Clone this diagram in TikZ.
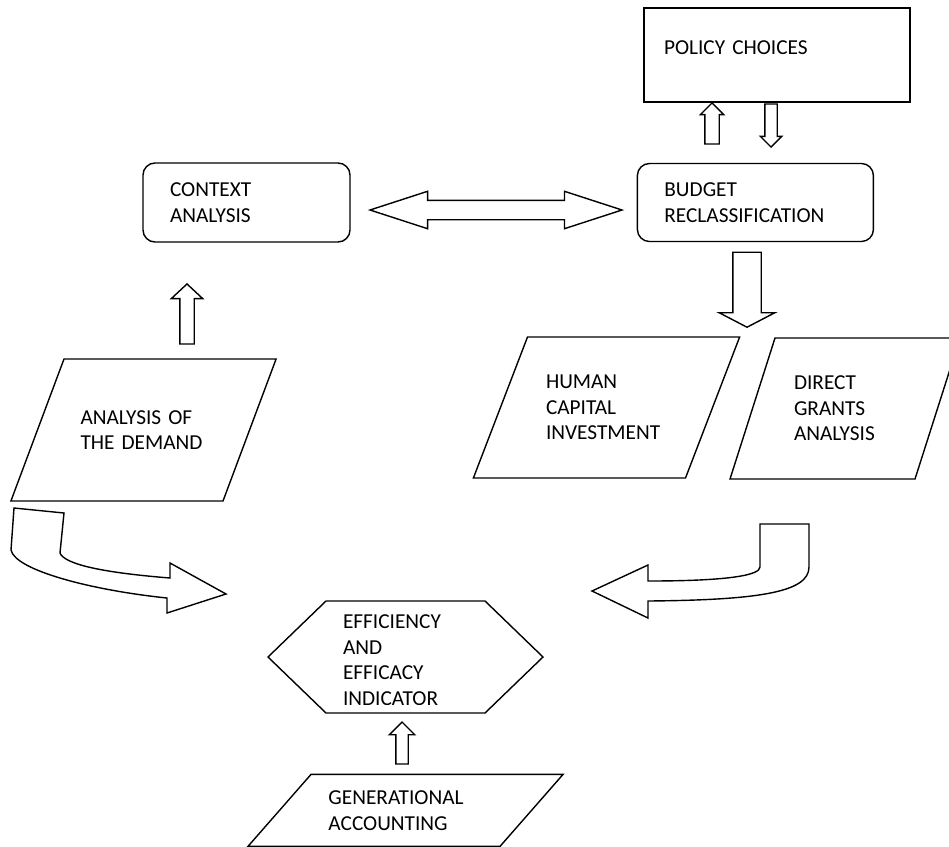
\documentclass[tikz,border=0pt]{standalone}
\usepackage{fontspec}
\setmainfont{Carlito}
\usetikzlibrary{shapes.geometric,shapes.arrows,shapes.symbols,positioning}

\begin{document}
\begin{tikzpicture}[
    x=1pt, y=-1pt,
    txt/.style={font=\fontsize{21.3}{25.5}\selectfont, align=left},
    box/.style={txt, rectangle, draw, line width=1.4pt, inner ysep=0pt},
    rbox/.style={box, rounded corners=12pt},
    data/.style={txt, trapezium, draw, line width=1.4pt, text height=13.7pt},
    hexa/.style={txt, signal, signal to=west and east, draw, line width=1.4pt, inner sep=0pt},
    barrow/.style={single arrow, draw, line width=1.4pt, inner ysep=0pt, single arrow tip angle=90},
    darrow/.style={double arrow, draw, line width=1.4pt, inner xsep=0pt},
    bent/.style={draw, line width=1.4pt, line join=miter}
]
\useasboundingbox (0,0) rectangle (949,846);

% boxes
\node[box, minimum width=266pt, minimum height=94pt, text width=226pt, inner xsep=20pt, text depth=14pt] (policy) at (777,55) {POLICY CHOICES};
\node[rbox, text width=153pt, inner xsep=27pt, minimum height=79pt] (ctx) at (246.5,202.5) {CONTEXT\\ANALYSIS};
\node[rbox, text width=182pt, inner xsep=27pt, minimum height=78pt, right=286pt of ctx] (budget) {BUDGET\\RECLASSIFICATION};

% data
\node[data, trapezium left angle=69.5, trapezium right angle=110.5, text width=126pt, text depth=25.5pt, inner xsep=16.5pt, inner ysep=51.4pt] (demand) at (143.5,430) {ANALYSIS OF\\THE DEMAND};
\node[data, trapezium left angle=69, trapezium right angle=111, text width=121pt, text depth=51pt, inner xsep=18.5pt, inner ysep=38.15pt] (human) at (606.5,407.5) {HUMAN\\CAPITAL\\INVESTMENT};
\node[data, trapezium left angle=72.3, trapezium right angle=107.7, text width=102pt, text depth=51pt, inner xsep=19pt, inner ysep=38.15pt] (grants) at (845,408.5) {DIRECT\\GRANTS\\ANALYSIS};

% indicator (last line cut off)
\node[hexa, signal pointer angle=88, minimum width=275pt, minimum height=112pt, text width=125pt, text height=20.2pt, text depth=76.5pt] (indic) at (405.5,657) {EFFICIENCY\\AND\\EFFICACY\\INDICATOR};
\fill[white] (338,705) rectangle (455,711.6);
\node[data, trapezium left angle=48.8, trapezium right angle=131.2, text width=154pt, text depth=25.5pt, inner xsep=17.5pt, inner ysep=16.4pt, below=60pt of indic] (gen) {GENERATIONAL\\ACCOUNTING};

% block arrows
\node[barrow, shape border rotate=90, anchor=tip, minimum height=41pt, inner xsep=6.5pt, single arrow head extend=4.5pt] (pup) at (712,102) {};
\node[barrow, shape border rotate=270, anchor=tip, minimum height=43pt, inner xsep=5.5pt, single arrow head extend=4.5pt] (pdown) at (771,148) {};
\node[barrow, shape border rotate=270, anchor=tip, minimum height=75pt, inner xsep=13.5pt, single arrow head extend=13.5pt, single arrow tip angle=125] (bdown) at (747,328) {};
\node[barrow, shape border rotate=90, anchor=tip, minimum height=60pt, inner xsep=6.5pt, single arrow head extend=8.5pt, single arrow tip angle=94] (dup) at (187,283) {};
\node[barrow, shape border rotate=90, anchor=tip, minimum height=42pt, inner xsep=5.5pt, single arrow head extend=6.5pt] (gup) at (402,721) {};
\node[darrow, minimum height=252pt, inner ysep=9pt, double arrow head extend=9pt, double arrow tip angle=36] (link) at (496,210) {};

% bent arrows
\draw[bent] (14,508) -- (64,513) -- (60,553) .. controls (64,563) and (95,572) .. (170,578) -- (170,563) -- (226,594) -- (167,613) -- (167,598) .. controls (90,590) and (15,570) .. (11,550) -- cycle;
\draw[bent] (760,524) -- (809,524) -- (809,567) .. controls (809,592) and (760,600) .. (648,601) -- (648,618) -- (592,591) -- (648,565) -- (648,581) .. controls (730,581) and (760,575) .. (760,567) -- cycle;

\end{tikzpicture}
\end{document}
